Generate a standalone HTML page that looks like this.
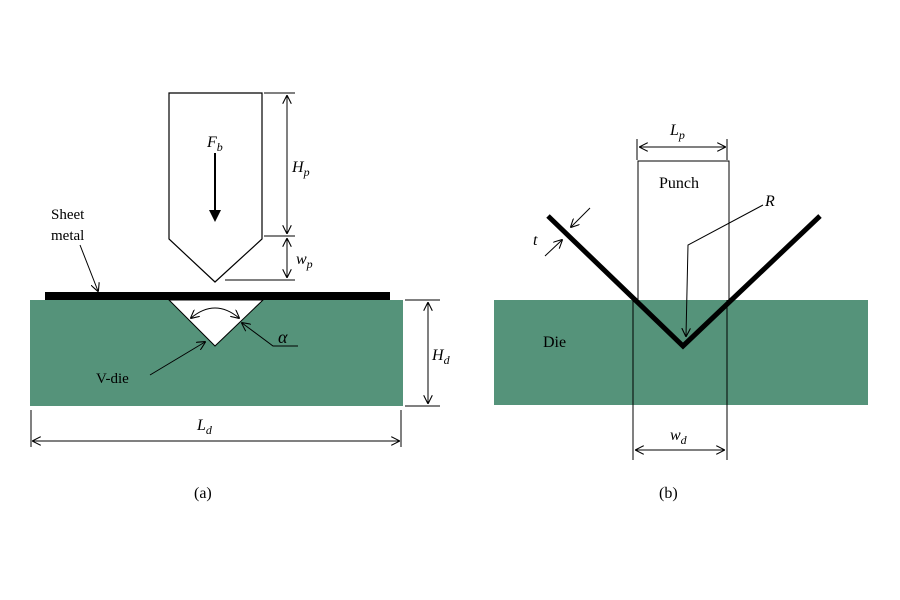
<!DOCTYPE html>
<html><head><style>body{margin:0;background:#fff}svg{display:block}</style></head><body>
<svg width="900" height="600" viewBox="0 0 900 600" xmlns="http://www.w3.org/2000/svg" font-family="Liberation Serif, serif">
<defs>
<marker id="o" viewBox="0 0 10 10" refX="9" refY="5" markerWidth="9" markerHeight="9" orient="auto-start-reverse" markerUnits="userSpaceOnUse"><path d="M0,0 L10,5 L0,10" fill="none" stroke="#000" stroke-width="1.2"/></marker>
</defs>
<!-- (a) -->
<rect x="30" y="300" width="373" height="106" fill="#55937a"/>
<polygon points="169,300 263,300 215,346" fill="#fff" stroke="#000" stroke-width="1"/>
<rect x="45" y="292" width="345" height="8" fill="#000"/>
<polygon points="169,93 262,93 262,239 215,282 169,239" fill="#fff" stroke="#000" stroke-width="1.2"/>
<text x="207" y="147" font-size="16" font-style="italic">F<tspan font-size="12" dy="4">b</tspan></text>
<line x1="215" y1="153" x2="215" y2="212" stroke="#000" stroke-width="2"/>
<polygon points="209,210 221,210 215,222" fill="#000"/>
<g stroke="#000" stroke-width="1" fill="none">
<line x1="264" y1="93" x2="295" y2="93"/><line x1="264" y1="236" x2="295" y2="236"/><line x1="225" y1="280" x2="295" y2="280"/>
<line x1="287" y1="96" x2="287" y2="233" marker-start="url(#o)" marker-end="url(#o)"/>
<line x1="287" y1="239" x2="287" y2="277" marker-start="url(#o)" marker-end="url(#o)"/>
<line x1="405" y1="300" x2="440" y2="300"/><line x1="405" y1="406" x2="440" y2="406"/>
<line x1="428" y1="303" x2="428" y2="403" marker-start="url(#o)" marker-end="url(#o)"/>
<line x1="31" y1="410" x2="31" y2="447"/><line x1="401" y1="410" x2="401" y2="447"/>
<line x1="33" y1="441" x2="399" y2="441" marker-start="url(#o)" marker-end="url(#o)"/>
<path d="M191,318 Q215,298 239,318" marker-start="url(#o)" marker-end="url(#o)"/>
<polyline points="298,346 273,346 242,323" marker-end="url(#o)"/>
<line x1="150" y1="375" x2="205" y2="342" marker-end="url(#o)"/>
<line x1="80" y1="245" x2="98" y2="291" marker-end="url(#o)"/>
</g>
<text x="292" y="172" font-size="16" font-style="italic">H<tspan font-size="12" dy="4">p</tspan></text>
<text x="296" y="264" font-size="16" font-style="italic">w<tspan font-size="12" dy="4">p</tspan></text>
<text x="278" y="343" font-size="18" font-style="italic">α</text>
<text x="432" y="360" font-size="16" font-style="italic">H<tspan font-size="12" dy="4">d</tspan></text>
<text x="197" y="430" font-size="16" font-style="italic">L<tspan font-size="12" dy="4">d</tspan></text>
<text x="96" y="383" font-size="15">V-die</text>
<text x="51" y="219" font-size="15">Sheet</text>
<text x="51" y="240" font-size="15">metal</text>
<text x="194" y="498" font-size="16">(a)</text>
<!-- (b) -->
<rect x="494" y="300" width="374" height="105" fill="#55937a"/>
<g stroke="#000" stroke-width="1" fill="none">
<polyline points="638,300 638,161 729,161 729,300"/>
<line x1="633" y1="300" x2="633" y2="460"/><line x1="727" y1="300" x2="727" y2="460"/>
<line x1="637" y1="139" x2="637" y2="160"/><line x1="727" y1="139" x2="727" y2="160"/>
<line x1="640" y1="147" x2="725" y2="147" marker-start="url(#o)" marker-end="url(#o)"/>
<line x1="636" y1="450" x2="724" y2="450" marker-start="url(#o)" marker-end="url(#o)"/>
<polyline points="763,205 688,245 686,336" marker-end="url(#o)"/>
<line x1="590" y1="208" x2="571" y2="227" marker-end="url(#o)"/>
<line x1="545" y1="256" x2="562" y2="240" marker-end="url(#o)"/>
</g>
<polyline points="548,216 683,346 820,216" fill="none" stroke="#000" stroke-width="5"/>
<text x="670" y="135" font-size="16" font-style="italic">L<tspan font-size="12" dy="4">p</tspan></text>
<text x="659" y="188" font-size="16">Punch</text>
<text x="765" y="206" font-size="16" font-style="italic">R</text>
<text x="533" y="245" font-size="16" font-style="italic">t</text>
<text x="543" y="347" font-size="16">Die</text>
<text x="670" y="440" font-size="16" font-style="italic">w<tspan font-size="12" dy="4">d</tspan></text>
<text x="659" y="498" font-size="16">(b)</text>
</svg>
</body></html>
